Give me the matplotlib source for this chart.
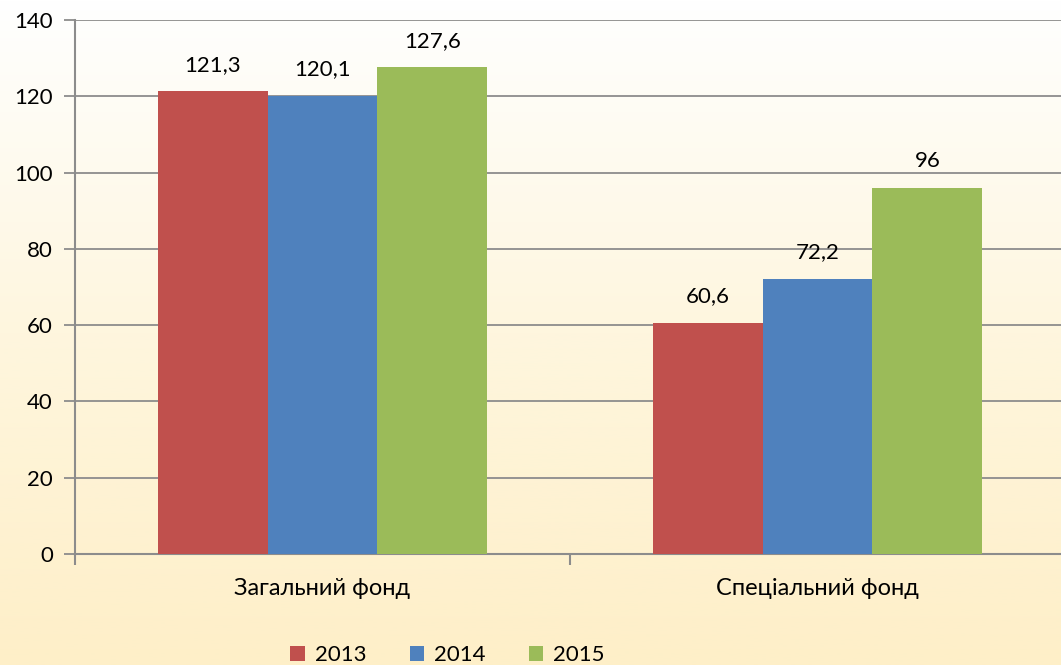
import numpy as np
import matplotlib
matplotlib.use('Agg')
import matplotlib.pyplot as plt
from matplotlib.colors import LinearSegmentedColormap

categories = ['Загальний фонд', 'Спеціальний фонд']
years = ['2013', '2014', '2015']
values_2013 = [121.3, 60.6]
values_2014 = [120.1, 72.2]
values_2015 = [127.6, 96]
labels_2013 = ['121,3', '60,6']
labels_2014 = ['120,1', '72,2']
labels_2015 = ['127,6', '96']
colors = ['#C0504D', '#4F81BD', '#9BBB59']

plt.rcParams['font.family'] = ['Lato', 'DejaVu Sans']

fig = plt.figure(figsize=(10.61, 6.65), dpi=100)

# фон з градієнтом: білий зверху, світло-жовтий знизу
bg = fig.add_axes([0, 0, 1, 1], zorder=-10)
grad = np.linspace(0, 1, 256).reshape(-1, 1)
cmap = LinearSegmentedColormap.from_list('bg', ['#FFFFFF', '#FEF6DE', '#FEEFC8'])
bg.imshow(grad, aspect='auto', cmap=cmap, extent=[0, 1, 0, 1], origin='upper')
bg.axis('off')

W, H = 1061, 665
left, right, top, bottom = 75, 1065, 20, 554
ax = fig.add_axes([left / W, 1 - bottom / H, (right - left) / W, (bottom - top) / H])
ax.patch.set_alpha(0)

x = np.arange(len(categories))
w = 0.2222
series = [(values_2013, labels_2013), (values_2014, labels_2014), (values_2015, labels_2015)]
for i, (vals, labs) in enumerate(series):
    bars = ax.bar(x + (i - 1) * w, vals, w, color=colors[i], label=years[i], zorder=3)
    for b, t in zip(bars, labs):
        ax.annotate(t, (b.get_x() + b.get_width() / 2, b.get_height()),
                    xytext=(0, 12), textcoords='offset points',
                    ha='center', va='bottom', fontsize=16)

ax.set_xlim(-0.5, 1.5)
ax.set_ylim(0, 140)
ax.set_yticks(range(0, 141, 20))
ax.yaxis.grid(True, color='#8C8C8C', linewidth=1.3, zorder=0)
ax.set_axisbelow(True)

ax.set_xticks([-0.5, 0.5, 1.5])
ax.set_xticklabels([])
ax.set_xticks(x, minor=True)
ax.set_xticklabels(categories, minor=True, fontsize=17)
ax.tick_params(axis='x', which='minor', length=0, pad=17)
ax.tick_params(axis='x', which='major', length=8, width=1.5, color='#8C8C8C')
ax.tick_params(axis='y', length=8, width=1.3, color='#8C8C8C', labelsize=16, pad=8)

for s in ['top', 'right']:
    ax.spines[s].set_visible(False)
for s in ['left', 'bottom']:
    ax.spines[s].set_color('#8C8C8C')
    ax.spines[s].set_linewidth(1.5)

fig.legend(loc='lower center', ncol=3, frameon=False, fontsize=16,
           bbox_to_anchor=(0.422, -0.03), handlelength=0.65, handleheight=0.65,
           columnspacing=1.95, handletextpad=0.45)

fig.savefig('out.png', dpi=100)
